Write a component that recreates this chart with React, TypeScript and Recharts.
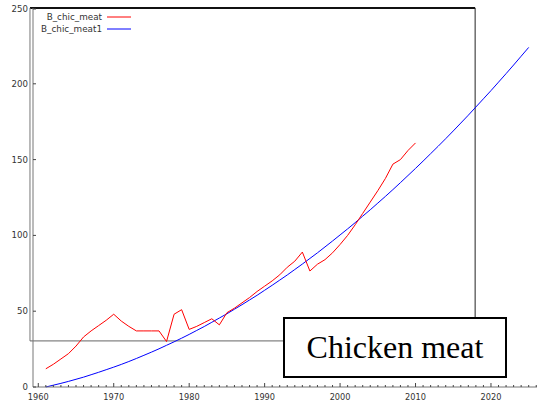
import React from "react";
import { LineChart, Line, XAxis, YAxis, ReferenceLine } from "recharts";

// values
const years = [
  1961, 1962, 1963, 1964, 1965, 1966, 1967, 1968, 1969, 1970, 1971, 1972, 1973,
  1974, 1975, 1976, 1977, 1978, 1979, 1980, 1981, 1982, 1983, 1984, 1985, 1986,
  1987, 1988, 1989, 1990, 1991, 1992, 1993, 1994, 1995, 1996, 1997, 1998, 1999,
  2000, 2001, 2002, 2003, 2004, 2005, 2006, 2007, 2008, 2009, 2010, 2011, 2012,
  2013, 2014, 2015, 2016, 2017, 2018, 2019, 2020, 2021, 2022, 2023, 2024, 2025,
];

const chicMeat = [
  12, 15, 18.5, 22, 27, 33, 37, 40.5, 44, 48, 43.5, 40, 37, 37, 37, 37, 30, 48,
  51, 38, 40, 42.5, 45, 41, 49, 52, 55.5, 59, 63, 66.5, 70, 74, 79, 83, 89,
  76.5, 81, 84, 88.5, 94, 100, 107, 114.5, 122, 129.5, 137.5, 147, 150, 156, 161,
];

const chicMeat1 = [
  0, 1.2, 2.4, 3.7, 5.1, 6.5, 8.1, 9.7, 11.4, 13.1, 14.9, 16.8, 18.8, 20.9, 23,
  25.2, 27.5, 29.8, 32.2, 34.7, 37.3, 39.9, 42.7, 45.5, 48.3, 51.3, 54.3, 57.4,
  60.5, 63.8, 67.1, 70.5, 73.9, 77.5, 81.1, 84.8, 88.5, 92.4, 96.3, 100.3,
  104.3, 108.4, 112.7, 116.9, 121.3, 125.7, 130.2, 134.8, 139.5, 144.2, 149,
  153.9, 158.8, 163.8, 168.9, 174.1, 179.3, 184.7, 190.1, 195.5, 201.1, 206.7,
  212.4, 218.2, 224,
];

const decadeTicks = [1960, 1970, 1980, 1990, 2000, 2010, 2020];
const yTicks = [0, 50, 100, 150, 200, 250];
const xDomain = [1959.3, 2026.1];
const yearTicks = Array.from({ length: 67 }, (_, i) => 1960 + i);

// the odd frame drawn over the plot, in data units
const frame = { x1: 1958.9, x2: 2017.9, y1: 30.4, y2: 250 };

const data = years.map((year, i) => ({
  year,
  B_chic_meat: chicMeat[i],
  B_chic_meat1: chicMeat1[i],
}));

const font = "'DejaVu Sans', sans-serif";

function BottomTick(props: any) {
  const { x, y, payload } = props;
  const major = payload.value % 10 === 0;
  return (
    <g>
      <line x1={x} x2={x} y1={y} y2={y - (major ? 4 : 2)} stroke="#444" />
      {major && (
        <text x={x} y={y + 13} textAnchor="middle" fontSize={8.2} fontFamily={font} fill="#333">
          {payload.value}
        </text>
      )}
    </g>
  );
}

function TopTick(props: any) {
  const { x, y } = props;
  return <line x1={x} x2={x} y1={y} y2={y + 3} stroke="#666" />;
}

function LeftTick(props: any) {
  const { x, y, payload } = props;
  return (
    <g>
      <line x1={x} x2={x + 3} y1={y} y2={y} stroke="#444" />
      <text x={x - 5} y={y + 3} textAnchor="end" fontSize={8.6} fontFamily={font} fill="#333">
        {payload.value}
      </text>
    </g>
  );
}

const legendRows = [
  { name: "B_chic_meat", color: "#ff0000" },
  { name: "B_chic_meat1", color: "#0000ff" },
];

function LegendBox() {
  return (
    <svg width={110} height={26} style={{ position: "absolute", left: 30, top: 11 }}>
      {legendRows.map((r, i) => (
        <g key={r.name}>
          <text x={72} y={9.3 + i * 12} textAnchor="end" fontSize={8.8} fontFamily={font} fill="#333">
            {r.name}
          </text>
          <line x1={77} x2={101} y1={6 + i * 12} y2={6 + i * 12} stroke={r.color} />
        </g>
      ))}
    </svg>
  );
}

export default function App() {
  return (
    <div style={{ position: "absolute", left: 0, top: 0, width: 537, height: 412, background: "#fff" }}>
      <LineChart width={537} height={412} data={data} margin={{ top: 8, right: 0, bottom: 0, left: 0 }}>
        <XAxis
          type="number"
          dataKey="year"
          domain={xDomain}
          allowDataOverflow
          ticks={yearTicks}
          interval={0}
          height={25}
          tickSize={0}
          tickMargin={0}
          tickLine={false}
          tick={<BottomTick />}
          stroke="#777"
        />
        <XAxis
          xAxisId="top"
          orientation="top"
          type="number"
          dataKey="year"
          domain={xDomain}
          allowDataOverflow
          ticks={decadeTicks}
          height={0}
          tickSize={0}
          tickMargin={0}
          tickLine={false}
          tick={<TopTick />}
          stroke="#333"
        />
        <YAxis
          type="number"
          domain={[0, 250]}
          ticks={yTicks}
          width={33}
          tickSize={0}
          tickMargin={0}
          tickLine={false}
          tick={<LeftTick />}
          stroke="#777"
        />
        <ReferenceLine
          segment={[{ x: frame.x1, y: frame.y2 }, { x: frame.x2, y: frame.y2 }]}
          stroke="#111"
          strokeWidth={2}
          ifOverflow="visible"
        />
        <ReferenceLine
          segment={[{ x: frame.x1, y: frame.y1 }, { x: frame.x1, y: frame.y2 }]}
          stroke="#777"
          ifOverflow="visible"
        />
        <ReferenceLine
          segment={[{ x: frame.x2, y: frame.y1 }, { x: frame.x2, y: frame.y2 }]}
          stroke="#222"
          ifOverflow="visible"
        />
        <ReferenceLine
          segment={[{ x: frame.x1, y: frame.y1 }, { x: frame.x2, y: frame.y1 }]}
          stroke="#666"
          ifOverflow="visible"
        />
        <Line
          type="linear"
          dataKey="B_chic_meat1"
          stroke="#0000ff"
          strokeWidth={1}
          dot={false}
          isAnimationActive={false}
        />
        <Line
          type="linear"
          dataKey="B_chic_meat"
          stroke="#ff0000"
          strokeWidth={1}
          dot={false}
          isAnimationActive={false}
        />
      </LineChart>
      <LegendBox />
      <div
        style={{
          position: "absolute",
          left: 283,
          top: 317,
          width: 220,
          height: 57,
          border: "2px solid #000",
          background: "#fff",
          fontFamily: "'Liberation Serif', 'Times New Roman', serif",
          fontSize: 32,
          color: "#000",
          display: "flex",
          alignItems: "center",
          justifyContent: "center",
        }}
      >
        Chicken meat
      </div>
    </div>
  );
}
